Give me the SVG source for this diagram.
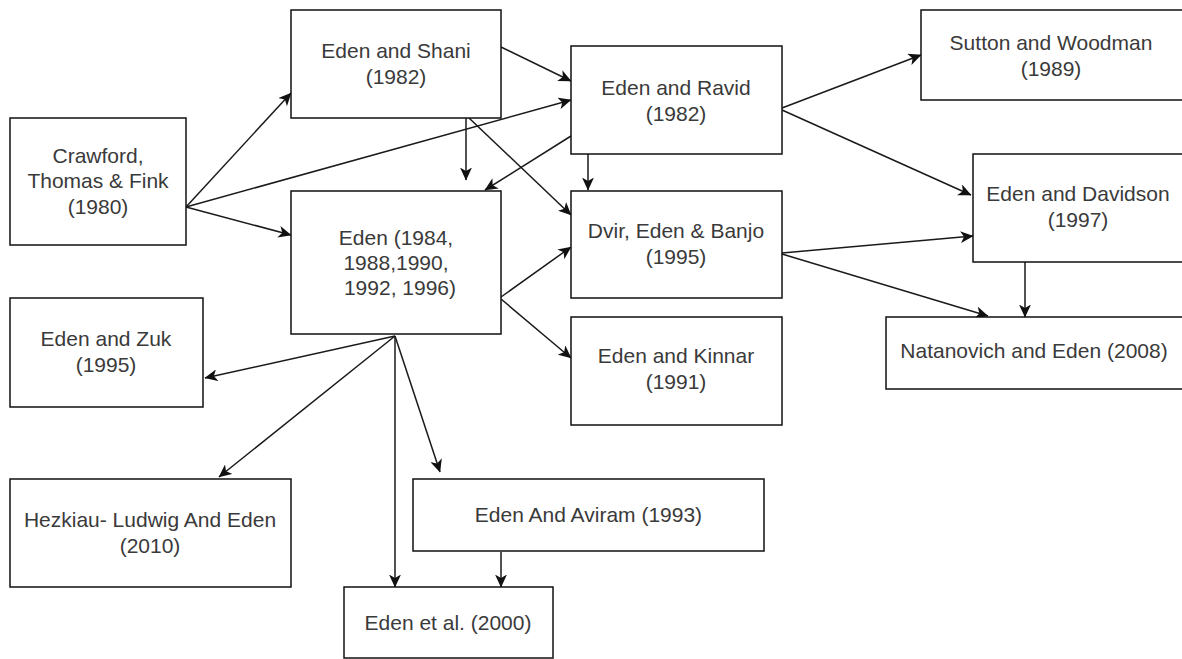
<svg xmlns="http://www.w3.org/2000/svg" width="1182" height="659" viewBox="0 0 1182 659">
  <style>
    .box { fill: #ffffff; stroke: #111111; stroke-width: 1.5; }
    .lbl { font-family: "Liberation Sans", Arial, sans-serif; font-size: 21px; fill: #3a3a3a; text-anchor: middle; }
    .edge { fill: none; stroke: #1a1a1a; stroke-width: 1.5; marker-end: url(#arrow); }
  </style>
  <defs>
    <marker id="arrow" markerUnits="userSpaceOnUse" viewBox="0 0 13 12" markerWidth="13" markerHeight="12" refX="12.5" refY="6" orient="auto">
      <path d="M0,0 L13,6 L0,12 L3.5,6 Z" fill="#111111"/>
    </marker>
  </defs>
  <rect width="1182" height="659" fill="#ffffff"/>

  <g id="connectors">
    <!-- from Crawford -->
    <line class="edge" x1="186" y1="207" x2="291" y2="93"/>
    <line class="edge" x1="186" y1="207" x2="571" y2="100"/>
    <line class="edge" x1="186" y1="207" x2="291" y2="235"/>
    <!-- from Eden and Shani -->
    <line class="edge" x1="501" y1="47" x2="571" y2="81"/>
    <line class="edge" x1="466" y1="118" x2="466" y2="180"/>
    <line class="edge" x1="469" y1="118" x2="571" y2="215"/>
    <!-- from Eden and Ravid -->
    <line class="edge" x1="571" y1="136" x2="485" y2="190"/>
    <line class="edge" x1="588" y1="154" x2="588" y2="190"/>
    <line class="edge" x1="782" y1="108" x2="921" y2="55"/>
    <line class="edge" x1="782" y1="110" x2="971" y2="195"/>
    <!-- from Eden (1984...) -->
    <line class="edge" x1="501" y1="297" x2="571" y2="247"/>
    <line class="edge" x1="501" y1="299" x2="571" y2="358"/>
    <line class="edge" x1="395" y1="336" x2="205" y2="378"/>
    <line class="edge" x1="395" y1="336" x2="219" y2="477"/>
    <line class="edge" x1="395" y1="336" x2="395" y2="587"/>
    <line class="edge" x1="395" y1="336" x2="440" y2="472"/>
    <!-- from Dvir, Eden & Banjo -->
    <line class="edge" x1="782" y1="253" x2="973" y2="236"/>
    <line class="edge" x1="782" y1="254" x2="988" y2="316"/>
    <!-- from Eden and Davidson -->
    <line class="edge" x1="1025" y1="262" x2="1025" y2="317"/>
    <!-- from Eden And Aviram -->
    <line class="edge" x1="501" y1="552" x2="501" y2="587"/>
  </g>

  <g id="crawford">
    <rect class="box" x="10" y="118" width="176" height="127"/>
    <text class="lbl" x="98" y="163">Crawford,</text>
    <text class="lbl" x="98" y="188">Thomas &amp; Fink</text>
    <text class="lbl" x="98" y="214">(1980)</text>
  </g>
  <g id="eden-shani">
    <rect class="box" x="291" y="10" width="210" height="108"/>
    <text class="lbl" x="396" y="58">Eden and Shani</text>
    <text class="lbl" x="396" y="84">(1982)</text>
  </g>
  <g id="eden-1984">
    <rect class="box" x="291" y="191" width="210" height="143"/>
    <text class="lbl" x="396" y="245">Eden (1984,</text>
    <text class="lbl" x="396" y="270">1988,1990,</text>
    <text class="lbl" x="400" y="295">1992, 1996)</text>
  </g>
  <g id="eden-ravid">
    <rect class="box" x="571" y="46" width="211" height="108"/>
    <text class="lbl" x="676" y="95">Eden and Ravid</text>
    <text class="lbl" x="676" y="121">(1982)</text>
  </g>
  <g id="dvir">
    <rect class="box" x="571" y="191" width="211" height="107"/>
    <text class="lbl" x="676" y="238">Dvir, Eden &amp; Banjo</text>
    <text class="lbl" x="676" y="264">(1995)</text>
  </g>
  <g id="eden-kinnar">
    <rect class="box" x="571" y="317" width="211" height="108"/>
    <text class="lbl" x="676" y="363">Eden and Kinnar</text>
    <text class="lbl" x="676" y="389">(1991)</text>
  </g>
  <g id="sutton-woodman">
    <rect class="box" x="921" y="10" width="270" height="90"/>
    <text class="lbl" x="1051" y="50">Sutton and Woodman</text>
    <text class="lbl" x="1051" y="76">(1989)</text>
  </g>
  <g id="eden-davidson">
    <rect class="box" x="973" y="154" width="218" height="108"/>
    <text class="lbl" x="1078" y="201">Eden and Davidson</text>
    <text class="lbl" x="1078" y="227">(1997)</text>
  </g>
  <g id="natanovich">
    <rect class="box" x="886" y="317" width="305" height="72"/>
    <text class="lbl" x="1034" y="358">Natanovich and Eden (2008)</text>
  </g>
  <g id="eden-zuk">
    <rect class="box" x="10" y="298" width="193" height="109"/>
    <text class="lbl" x="106" y="346">Eden and Zuk</text>
    <text class="lbl" x="106" y="372">(1995)</text>
  </g>
  <g id="hezkiau">
    <rect class="box" x="10" y="479" width="281" height="108"/>
    <text class="lbl" x="150" y="527">Hezkiau- Ludwig And Eden</text>
    <text class="lbl" x="150" y="553">(2010)</text>
  </g>
  <g id="eden-aviram">
    <rect class="box" x="413" y="479" width="351" height="72"/>
    <text class="lbl" x="588.5" y="522">Eden And Aviram (1993)</text>
  </g>
  <g id="eden-etal">
    <rect class="box" x="344" y="587" width="209" height="71"/>
    <text class="lbl" x="448" y="630">Eden et al. (2000)</text>
  </g>
</svg>
